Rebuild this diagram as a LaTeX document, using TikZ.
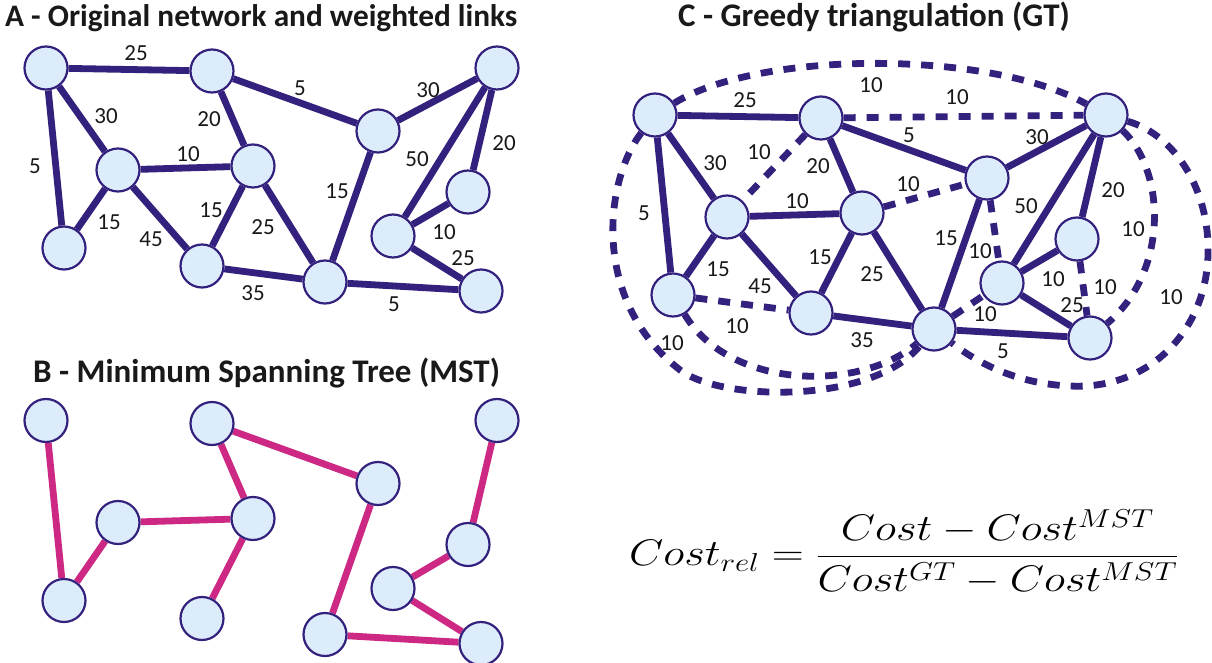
\RequirePackage{fix-cm}
\documentclass[tikz,border=0pt]{standalone}
\usepackage{fontspec}
\usepackage{graphicx}
\setmainfont{Carlito}
\pgfdeclarelayer{bg}
\pgfdeclarelayer{edges}
\pgfsetlayers{bg,edges,main}
\definecolor{navy}{RGB}{52,32,125}
\definecolor{nodefill}{RGB}{220,236,250}
\definecolor{mag}{RGB}{204,40,132}
\definecolor{txt}{RGB}{25,25,25}
\tikzset{
  nd/.style={circle, draw=navy, line width=2.2pt, fill=nodefill, minimum size=43pt, inner sep=0pt},
  lnk/.style={draw=navy, line width=6.8pt},
  mstlnk/.style={draw=mag, line width=6.8pt},
  dlnk/.style={draw=navy, line width=6.8pt, dash pattern=on 12pt off 11pt},
  lbl/.style={font=\fontsize{23}{27}\selectfont, text=txt, inner sep=0pt},
  ttl/.style={font=\bfseries\fontsize{33}{38}\selectfont, text=txt, inner sep=0pt, anchor=base west},
}
\newcommand\placenodes{%
  \node[nd] (n1) at (46,68) {};
  \node[nd] (n2) at (212,71) {};
  \node[nd] (n3) at (378,131) {};
  \node[nd] (n4) at (497,68) {};
  \node[nd] (n5) at (118,170) {};
  \node[nd] (n6) at (253,166) {};
  \node[nd] (n7) at (64,248) {};
  \node[nd] (n8) at (202,266) {};
  \node[nd] (n9) at (325,282) {};
  \node[nd] (n10) at (468,192) {};
  \node[nd] (n11) at (393,236) {};
  \node[nd] (n12) at (481,291) {};
}
\newcommand\fulledges{%
  \begin{pgfonlayer}{edges}
  \draw[lnk] (n1)--(n2) (n2)--(n3) (n3)--(n4) (n1)--(n5) (n1)--(n7) (n2)--(n6)
    (n5)--(n6) (n5)--(n7) (n5)--(n8) (n6)--(n8) (n6)--(n9) (n8)--(n9) (n3)--(n9)
    (n4)--(n11) (n4)--(n10) (n10)--(n11) (n11)--(n12) (n9)--(n12);
  \end{pgfonlayer}
}
\newcommand\weightlabels{%
  \node[lbl] (w1) at (136,53) {25};
  \node[lbl] (w2) at (300,88) {5};
  \node[lbl] (w3) at (428,90) {30};
  \node[lbl] (w4) at (106,116) {30};
  \node[lbl] (w5) at (209,119) {20};
  \node[lbl] (w6) at (35,166) {5};
  \node[lbl] (w7) at (188,154) {10};
  \node[lbl] (w8) at (504,143) {20};
  \node[lbl] (w9) at (417,159) {50};
  \node[lbl] (w10) at (337,191) {15};
  \node[lbl] (w11) at (211,210) {15};
  \node[lbl] (w12) at (109,222) {15};
  \node[lbl] (w13) at (263,227) {25};
  \node[lbl] (w14) at (151,239) {45};
  \node[lbl] (w15) at (444,232) {10};
  \node[lbl] (w16) at (463,258) {25};
  \node[lbl] (w17) at (253,293) {35};
  \node[lbl] (w18) at (394,304) {5};
}
\begin{document}
\begin{tikzpicture}[x=1pt,y=-1pt]
  \useasboundingbox (0,0) rectangle (1212,663);
  \begin{pgfonlayer}{bg}
    \fill[white] (0,0) rectangle (1212,663);
  \end{pgfonlayer}

  % titles
  \node[ttl, font=\bfseries\fontsize{31.3}{36}\selectfont] (tA) at (5,27) {A - Original network and weighted links};
  \node[ttl] (tB) at (33,382) {B - Minimum Spanning Tree (MST)};
  \node[ttl] (tC) at (678,27) {C - Greedy triangulation (GT)};

  % Panel A
  \begin{scope}[name prefix=A-]
    \placenodes
    \fulledges
    \weightlabels
  \end{scope}

  % Panel B
  \begin{scope}[name prefix=B-, shift={(0,352.5)}]
    \placenodes
    \begin{pgfonlayer}{edges}
    \draw[mstlnk] (n1)--(n7) (n7)--(n5) (n5)--(n6) (n6)--(n2) (n2)--(n3) (n6)--(n8)
      (n3)--(n9) (n9)--(n12) (n12)--(n11) (n11)--(n10) (n10)--(n4);
    \end{pgfonlayer}
  \end{scope}

  % Panel C
  \begin{scope}[name prefix=C-, shift={(609,47)}]
    \placenodes
    \fulledges
    \weightlabels
  \end{scope}
  \begin{pgfonlayer}{edges}
    \draw[dlnk] (C-n1) .. controls (760,50) and (990,50) .. (C-n4);
    \draw[dlnk] (C-n2) -- (C-n4);
    \draw[dlnk] (C-n2) -- (C-n5);
    \draw[dlnk] (C-n6) -- (C-n3);
    \draw[dlnk] (C-n3) -- (C-n11);
    \draw[dlnk] (C-n9) -- (C-n11);
    \draw[dlnk] (C-n10) -- (C-n12);
    \draw[dlnk] (C-n7) -- (C-n8);
    \draw[dlnk] (C-n1) .. controls (605,180) and (590,300) .. (680,370)
      .. controls (720,401) and (870,405) .. (C-n9);
    \draw[dlnk] (C-n7) .. controls (730,390) and (860,392) .. (C-n9);
    \draw[dlnk] (C-n4) .. controls (1165,170) and (1170,270) .. (C-n12);
    \draw[dlnk] (C-n4) .. controls (1175,135) and (1210,190) .. (1208,255)
      .. controls (1206,330) and (1150,390) .. (1070,386)
      .. controls (1020,384) and (980,365) .. (C-n9);
  \end{pgfonlayer}
  \node[lbl] (d1) at (871,85) {10};
  \node[lbl] (d2) at (957,97) {10};
  \node[lbl] (d3) at (759,152) {10};
  \node[lbl] (d4) at (908,184) {10};
  \node[lbl] (d5) at (980,251) {10};
  \node[lbl] (d6) at (985,314) {10};
  \node[lbl] (d7) at (1105,287) {10};
  \node[lbl] (d8) at (1133,229) {10};
  \node[lbl] (d9) at (1171,297) {10};
  \node[lbl] (d10) at (737,326) {10};
  \node[lbl] (d11) at (672,343) {10};

  % formula
  \node[anchor=west, inner sep=0pt] (formula) at (629,552)
    {\scalebox{1.2}[1]{\fontsize{37}{44}\selectfont $\displaystyle Cost_{rel} = \frac{Cost - Cost^{MST}}{Cost^{GT} - Cost^{MST}}$}};
\end{tikzpicture}
\end{document}
